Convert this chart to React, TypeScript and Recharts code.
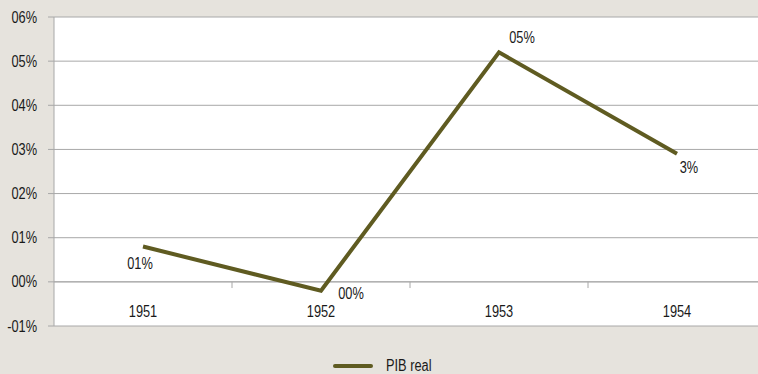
import { LineChart, Line, XAxis, YAxis, CartesianGrid, ReferenceLine, LabelList, Legend } from "recharts";

const years = ["1951", "1952", "1953", "1954"];
const pibReal = [0.8, -0.2, 5.2, 2.9];
const pointLabels = ["01%", "00%", "05%", "3%"];
const yTicks = [-1, 0, 1, 2, 3, 4, 5, 6];
const yTickLabels = ["-01%", "00%", "01%", "02%", "03%", "04%", "05%", "06%"];

const data = years.map((year, i) => ({ idx: i + 1, year, value: pibReal[i], label: pointLabels[i] }));
const bandEdges = years.slice(1).map((_, i) => i + 1.5);

const FONT = "'Liberation Sans', Arial, sans-serif";
const LINE = "#5f5b21";
const GRID = "#a8a8a8";
const SQUEEZE = 0.8; // fake a narrow face
const FS = 16;

function Narrow({ x, y, anchor, children }: any) {
  return (
    <g transform={`translate(${x},${y})`}>
      <text transform={`scale(${SQUEEZE},1)`} textAnchor={anchor} dominantBaseline="central" fontSize={FS} fill="#1a1a1a" fontFamily={FONT}>
        {children}
      </text>
    </g>
  );
}

// label offsets roughly as excel placed them
const labelOffsets = [
  { dx: -3, dy: 17 },
  { dx: 30, dy: 3 },
  { dx: 23, dy: -15 },
  { dx: 12, dy: 14 },
];

function PointLabel(props: any) {
  const { x, y, index, value } = props;
  const off = labelOffsets[index] || { dx: 0, dy: 0 };
  return <Narrow x={x + off.dx} y={y + off.dy} anchor="middle">{value}</Narrow>;
}

function YearTick(props: any) {
  const { x, y, payload } = props;
  return <Narrow x={x} y={y - 23} anchor="middle">{years[payload.value - 1]}</Narrow>;
}

function PctTick(props: any) {
  const { x, y, payload } = props;
  return <Narrow x={x} y={y} anchor="end">{yTickLabels[yTicks.indexOf(payload.value)]}</Narrow>;
}

function LegendBox() {
  return (
    <div style={{ height: 30, display: "flex", justifyContent: "center", alignItems: "center", paddingTop: 14, boxSizing: "border-box", fontFamily: FONT, fontSize: FS, color: "#1a1a1a" }}>
      <div style={{ width: 40, height: 4, borderRadius: 2, background: LINE, marginRight: 13 }} />
      <span style={{ display: "inline-block", width: 48, transform: `scaleX(${SQUEEZE})`, transformOrigin: "left center", whiteSpace: "nowrap" }}>PIB real</span>
    </div>
  );
}

export default function App() {
  return (
    <div style={{ position: "fixed", left: 0, top: 0, width: 758, height: 374, overflow: "hidden", background: "#e6e3dd" }}>
      <LineChart width={766} height={374} data={data} margin={{ top: 17, right: 0, left: 0, bottom: 0 }}>
        <CartesianGrid horizontal vertical={false} stroke={GRID} fill="#ffffff" />
        <XAxis
          dataKey="idx"
          type="number"
          domain={[0.5, 4.5]}
          ticks={data.map((d) => d.idx)}
          axisLine={false}
          tickLine={false}
          height={18}
          tick={<YearTick />}
        />
        <YAxis
          type="number"
          domain={[-1, 6]}
          ticks={yTicks}
          width={54}
          axisLine={{ stroke: GRID }}
          tickLine={{ stroke: GRID }}
          tickSize={6}
          tickMargin={11}
          tick={<PctTick />}
        />
        <ReferenceLine y={0} stroke={GRID} />
        {bandEdges.map((e) => (
          <ReferenceLine key={e} segment={[{ x: e, y: 0 }, { x: e, y: -0.14 }]} stroke={GRID} />
        ))}
        <Legend verticalAlign="bottom" content={<LegendBox />} />
        <Line dataKey="value" stroke={LINE} strokeWidth={4} dot={false} isAnimationActive={false}>
          <LabelList dataKey="label" content={<PointLabel />} />
        </Line>
      </LineChart>
    </div>
  );
}
